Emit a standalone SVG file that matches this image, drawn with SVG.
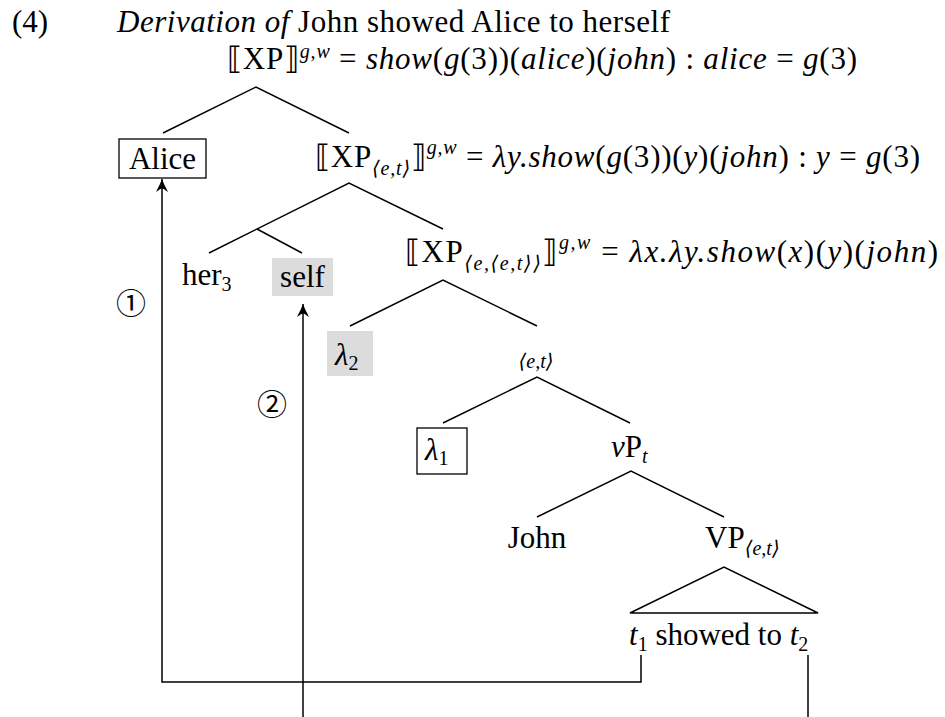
<svg xmlns="http://www.w3.org/2000/svg" width="945" height="717" viewBox="0 0 945 717" font-family="'Liberation Serif', 'DejaVu Serif', serif" font-size="31">
<defs>
<style>
.i { font-style: italic; }
.s { font-size: 20px; }
.edge { stroke:#000; stroke-width:1.5; fill:none; }
.box { fill:#fff; stroke:#000; stroke-width:1.3; }
.gray { fill:#dcdcdc; stroke:none; }
.mid { text-anchor: middle; }
</style>
<marker id="arr" viewBox="-14 -7 15 14" refX="0" refY="0" markerWidth="15" markerHeight="14" markerUnits="userSpaceOnUse" orient="auto">
<path d="M0,0 C-3.5,1.2 -8,3.5 -13,6 C-10.5,2.5 -9.5,1.2 -9.5,0 C-9.5,-1.2 -10.5,-2.5 -13,-6 C-8,-3.5 -3.5,-1.2 0,0 Z" fill="#000"/>
</marker>
</defs>
<rect width="945" height="717" fill="#fff"/>

<g id="title">
<text x="12" y="32">(4)</text>
<text x="117" y="32" textLength="553"><tspan class="i">Derivation of</tspan> John showed Alice to herself</text>
</g>

<g id="connectors">
<polyline class="edge" points="163,133 256,87 349,133"/>
<polyline class="edge" points="209,253 349,183 443,229"/>
<line class="edge" x1="257" y1="229" x2="302" y2="253"/>
<polyline class="edge" points="350,326 443,280 537,326"/>
<polyline class="edge" points="443,423 537,377 630,423"/>
<polyline class="edge" points="537,517 631,471 724,517"/>
<polygon class="edge" points="630,613 724,567 818,613"/>
<path class="edge" d="M641,655 V682 H162 V179" marker-end="url(#arr)"/>
<path class="edge" d="M303,717 V304" marker-end="url(#arr)"/>
<line class="edge" x1="808" y1="655" x2="808" y2="717"/>
</g>

<g id="node-root">
<text x="227" y="69" textLength="630">⟦XP⟧<tspan class="s i" dy="-11">g,w</tspan><tspan dy="11"> = </tspan><tspan class="i">show</tspan>(<tspan class="i">g</tspan>(3))(<tspan class="i">alice</tspan>)(<tspan class="i">john</tspan>) : <tspan class="i">alice</tspan> = <tspan class="i">g</tspan>(3)</text>
</g>

<g id="node-alice">
<rect class="box" x="119" y="139" width="87" height="39"/>
<text class="mid" x="162.5" y="169">Alice</text>
</g>

<g id="node-xp-et">
<text x="315" y="167" textLength="605">⟦XP<tspan class="s i" dy="8">⟨e,t⟩</tspan><tspan dy="-8">⟧</tspan><tspan class="s i" dy="-13">g,w</tspan><tspan dy="13"> = </tspan><tspan class="i">λy.show</tspan>(<tspan class="i">g</tspan>(3))(<tspan class="i">y</tspan>)(<tspan class="i">john</tspan>) : <tspan class="i">y</tspan> = <tspan class="i">g</tspan>(3)</text>
</g>

<g id="node-her3">
<text x="182" y="285">her<tspan class="s" dy="6">3</tspan></text>
</g>

<g id="node-self">
<rect class="gray" x="272" y="258" width="61" height="38"/>
<text class="mid" x="302.5" y="287">self</text>
</g>

<g id="node-xp-eet">
<text x="405" y="262" textLength="533">⟦XP<tspan class="s i" dy="8">⟨e,⟨e,t⟩⟩</tspan><tspan dy="-8">⟧</tspan><tspan class="s i" dy="-13">g,w</tspan><tspan dy="13"> = </tspan><tspan class="i">λx.λy.show</tspan>(<tspan class="i">x</tspan>)(<tspan class="i">y</tspan>)(<tspan class="i">john</tspan>)</text>
</g>

<g id="node-lambda2">
<rect class="gray" x="327" y="331" width="46" height="45"/>
<text x="335" y="365"><tspan class="i">λ</tspan><tspan class="s" dy="5">2</tspan></text>
</g>

<g id="node-et">
<text class="mid s i" x="536" y="368">⟨e,t⟩</text>
</g>

<g id="node-lambda1">
<rect class="box" x="417" y="428" width="50" height="46"/>
<text x="425" y="460"><tspan class="i">λ</tspan><tspan class="s" dy="5">1</tspan></text>
</g>

<g id="node-vp-t">
<text x="611" y="457"><tspan class="i">v</tspan>P<tspan class="s i" dy="6">t</tspan></text>
</g>

<g id="node-john">
<text class="mid" x="537" y="548">John</text>
</g>

<g id="node-vp-et">
<text x="705" y="548">VP<tspan class="s i" dy="7">⟨e,t⟩</tspan></text>
</g>

<g id="node-terminals">
<text x="629" y="645"><tspan class="i">t</tspan><tspan class="s" dy="6">1</tspan><tspan dy="-6"> showed to </tspan><tspan class="i">t</tspan><tspan class="s" dy="6">2</tspan></text>
</g>

<g id="label-1">
<text class="mid" font-family="'Noto Sans CJK JP', sans-serif" font-size="30" x="131" y="314">①</text>
</g>
<g id="label-2">
<text class="mid" font-family="'Noto Sans CJK JP', sans-serif" font-size="30" x="272" y="415">②</text>
</g>
</svg>
